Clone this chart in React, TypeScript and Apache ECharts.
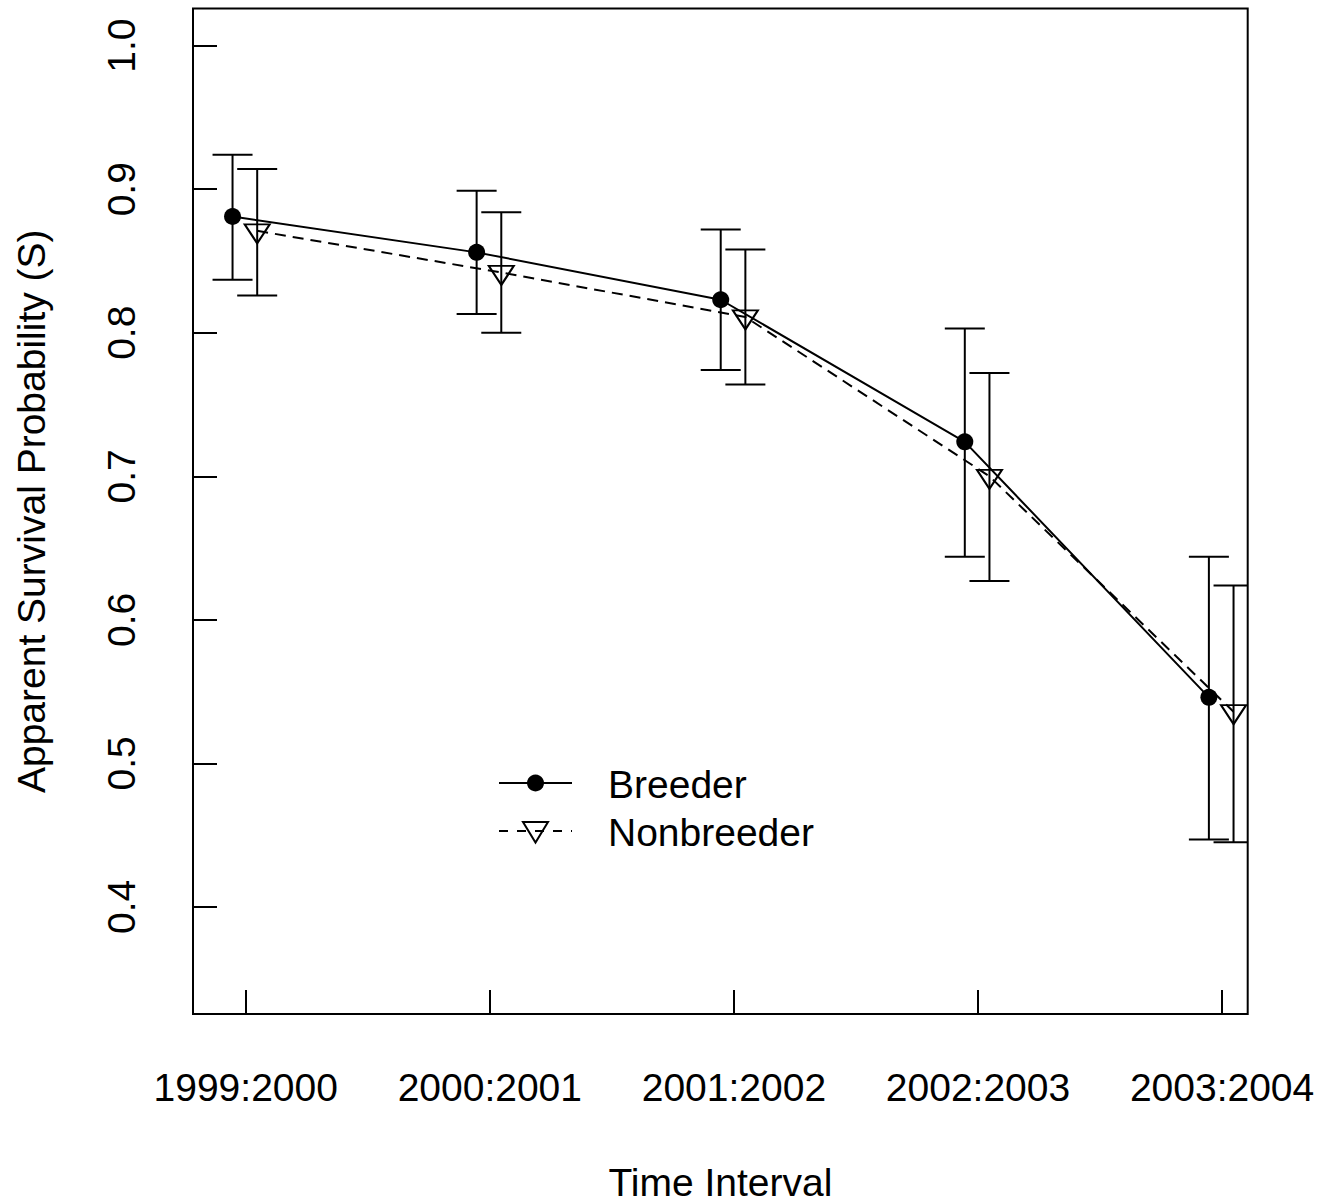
import React, { useEffect, useRef } from "react";
import * as echarts from "echarts";

const categories = ["1999:2000", "2000:2001", "2001:2002", "2002:2003", "2003:2004"];
const breederS = [0.881, 0.856, 0.823, 0.724, 0.546];
const breederLo = [0.837, 0.813, 0.774, 0.644, 0.447];
const breederHi = [0.924, 0.899, 0.872, 0.803, 0.644];
const nonbreederS = [0.871, 0.842, 0.811, 0.700, 0.536];
const nonbreederLo = [0.826, 0.800, 0.764, 0.627, 0.445];
const nonbreederHi = [0.914, 0.884, 0.858, 0.772, 0.624];
const yTicks = [0.4, 0.5, 0.6, 0.7, 0.8, 0.9, 1.0];
const xTicks = [1, 2, 3, 4, 5];
const breederOffset = -0.054;
const nonbreederOffset = 0.047;

const FONT = "'Liberation Sans', Arial, Helvetica, sans-serif";

export default function App() {
  const ref = useRef<HTMLDivElement>(null);
  useEffect(() => {
    if (!ref.current) return;
    const chart = echarts.init(ref.current, undefined, { renderer: "svg" });

    const bPts = categories.map((_, i) => [i + 1 + breederOffset, breederS[i]]);
    const nPts = categories.map((_, i) => [i + 1 + nonbreederOffset, nonbreederS[i]]);
    const bErr = categories.map((_, i) => [i + 1 + breederOffset, breederLo[i], breederHi[i]]);
    const nErr = categories.map((_, i) => [i + 1 + nonbreederOffset, nonbreederLo[i], nonbreederHi[i]]);

    const errRender = (params: any, api: any) => {
      const x = api.value(0);
      const lo = api.coord([x, api.value(1)]);
      const hi = api.coord([x, api.value(2)]);
      const hw = 20;
      const st = { stroke: "#000", lineWidth: 2 };
      return {
        type: "group",
        children: [
          { type: "line", shape: { x1: lo[0], y1: lo[1], x2: hi[0], y2: hi[1] }, style: st },
          { type: "line", shape: { x1: lo[0] - hw, y1: lo[1], x2: lo[0] + hw, y2: lo[1] }, style: st },
          { type: "line", shape: { x1: hi[0] - hw, y1: hi[1], x2: hi[0] + hw, y2: hi[1] }, style: st },
        ],
      };
    };

    const option: any = {
      animation: false,
      backgroundColor: "#fff",
      textStyle: { fontFamily: FONT },
      grid: {
        left: 193,
        top: 8.5,
        width: 1054.7,
        height: 1005.5,
        show: true,
        borderColor: "#000",
        borderWidth: 2,
        backgroundColor: "transparent",
        containLabel: false,
        outerBoundsMode: "none",
      },
      xAxis: {
        type: "value",
        min: 0.784,
        max: 5.105,
        name: "Time Interval",
        nameLocation: "middle",
        nameGap: 150,
        nameTextStyle: { fontSize: 39, lineHeight: 36, color: "#000", fontFamily: FONT },
        axisLine: { show: false },
        splitLine: { show: false },
        axisTick: {
          show: true,
          inside: true,
          length: 24,
          customValues: xTicks,
          lineStyle: { color: "#000", width: 2 },
        },
        axisLabel: {
          customValues: xTicks,
          margin: 54,
          fontSize: 39,
          color: "#000",
          fontFamily: FONT,
          formatter: (v: number) => categories[Math.round(v) - 1] ?? "",
        },
      },
      yAxis: {
        type: "value",
        min: 0.3254,
        max: 1.0259,
        name: "Apparent Survival Probability (S)",
        nameLocation: "middle",
        nameGap: 142,
        nameTextStyle: { fontSize: 39, color: "#000", fontFamily: FONT },
        axisLine: { show: false },
        splitLine: { show: false },
        axisTick: {
          show: true,
          inside: true,
          length: 24,
          customValues: yTicks,
          lineStyle: { color: "#000", width: 2 },
        },
        axisLabel: {
          customValues: yTicks,
          rotate: 90,
          margin: 52,
          fontSize: 39,
          color: "#000",
          fontFamily: FONT,
          formatter: (v: number) => v.toFixed(1),
        },
      },
      series: [
        {
          name: "Breeder",
          type: "line",
          data: bPts,
          symbol: "circle",
          symbolSize: 17,
          lineStyle: { color: "#000", width: 2 },
          itemStyle: { color: "#000" },
          z: 3,
        },
        {
          name: "Nonbreeder",
          type: "line",
          data: nPts,
          symbol: "triangle",
          symbolSize: [25, 19],
          symbolRotate: 180,
          symbolOffset: [0, 3],
          lineStyle: { color: "#000", width: 2, type: [11, 7] },
          itemStyle: { color: "rgba(0,0,0,0)", borderColor: "#000", borderWidth: 2 },
          z: 3,
        },
        {
          name: "Breeder CI",
          type: "custom",
          data: bErr,
          renderItem: errRender,
          clip: true,
          encode: { x: 0, y: [1, 2] },
          z: 2,
        },
        {
          name: "Nonbreeder CI",
          type: "custom",
          data: nErr,
          renderItem: errRender,
          clip: true,
          encode: { x: 0, y: [1, 2] },
          z: 2,
        },
      ],
      graphic: [
        { type: "line", shape: { x1: 499, y1: 783, x2: 572, y2: 783 }, style: { stroke: "#000", lineWidth: 2 } },
        { type: "circle", shape: { cx: 535.5, cy: 783, r: 8.5 }, style: { fill: "#000" } },
        {
          type: "text",
          x: 608,
          y: 784,
          style: { text: "Breeder", font: `39px ${FONT}`, fill: "#000", verticalAlign: "middle" },
        },
        {
          type: "line",
          shape: { x1: 499, y1: 831, x2: 572, y2: 831 },
          style: { stroke: "#000", lineWidth: 2, lineDash: [9, 9] },
        },
        {
          type: "polygon",
          shape: { points: [[523, 822], [548, 822], [535.5, 842.5]] },
          style: { fill: "none", stroke: "#000", lineWidth: 2 },
        },
        {
          type: "text",
          x: 608,
          y: 832,
          style: { text: "Nonbreeder", font: `39px ${FONT}`, fill: "#000", verticalAlign: "middle" },
        },
      ],
    };
    chart.setOption(option);
    return () => chart.dispose();
  }, []);
  return (
    <div
      ref={ref}
      style={{ position: "absolute", left: 0, top: 0, width: 1322, height: 1202, background: "#fff" }}
    />
  );
}
